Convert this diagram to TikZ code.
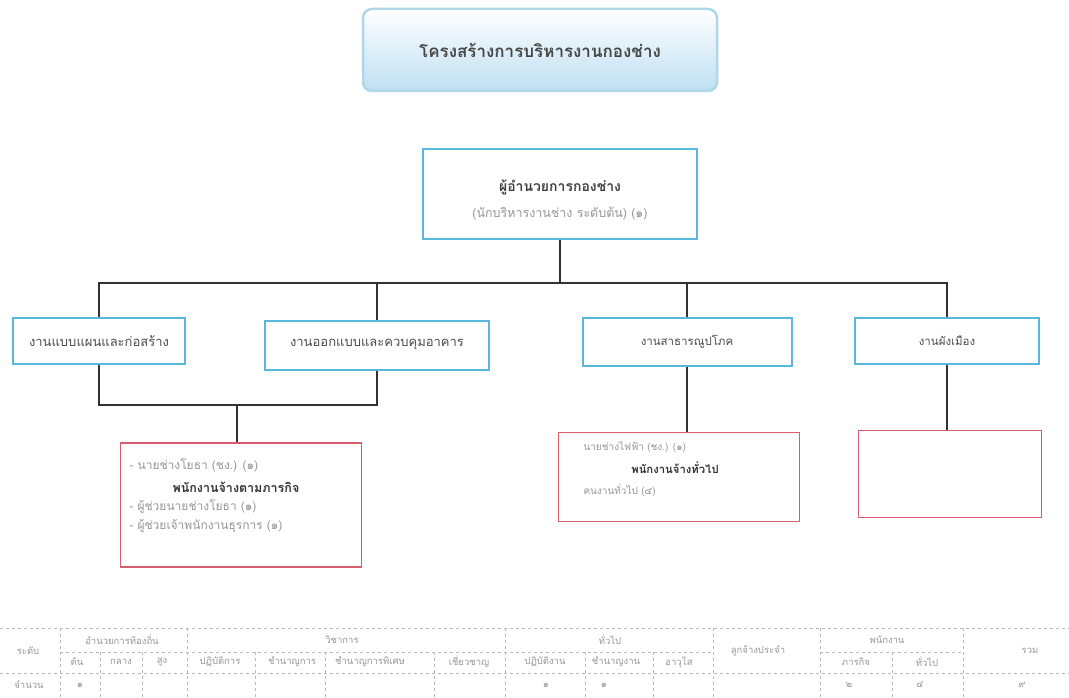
\documentclass[tikz,border=0pt]{standalone}
\usepackage{fontspec}
\setmainfont[Script=Thai]{Loma}
\usetikzlibrary{positioning}
\definecolor{boxblue}{RGB}{88,184,222}
\definecolor{titleedge}{RGB}{176,214,235}
\definecolor{titlefill}{RGB}{190,223,242}
\definecolor{boxred}{RGB}{214,92,112}
\definecolor{linegray}{RGB}{50,50,50}
\definecolor{faint}{RGB}{150,150,150}
\tikzset{
  unitbox/.style={draw=boxblue,line width=2pt,fill=white,font=\fontsize{13}{15}\selectfont,text=black!70},
  staffbox/.style={draw=boxred,line width=1.6pt,fill=white},
  conn/.style={draw=linegray,line width=1.4pt},
  tabline/.style={draw=gray!55,dashed,line width=0.5pt},
  staffline/.style={anchor=west,text=faint,font=\fontsize{12}{14}\selectfont},
  stafftitle/.style={text=black!80,font=\bfseries\fontsize{12.5}{14}\selectfont},
  thcell/.style={text=faint,font=\fontsize{9.5}{10}\selectfont}
}
\begin{document}
\begin{tikzpicture}[x=1pt,y=-1pt]
\useasboundingbox[fill=white](0,0)rectangle(1069,698);
% title
\node[draw=titleedge,line width=2.5pt,rounded corners=9pt,top color=white,bottom color=titlefill,
  minimum width=354pt,minimum height=82pt,font=\bfseries\fontsize{17}{19}\selectfont,text=black!72]
  (title) at (540,50) {โครงสร้างการบริหารงานกองช่าง};
% head of division
\node[draw=boxblue,line width=2.5pt,fill=white,minimum width=274pt,minimum height=90pt] (boss) at (560,194) {};
\node[font=\bfseries\fontsize{14}{16}\selectfont,text=black!75] (bossname) at (560,187) {ผู้อำนวยการกองช่าง};
\node[font=\fontsize{12.5}{14}\selectfont,text=faint] (bossrank) at (560,214) {(นักบริหารงานช่าง ระดับต้น) (๑)};
% sections
\node[unitbox,minimum width=172pt,minimum height=46pt] (plan) at (99,341) {งานแบบแผนและก่อสร้าง};
\node[unitbox,minimum width=224pt,minimum height=49pt] (design) at (377,345) {งานออกแบบและควบคุมอาคาร};
\node[unitbox,minimum width=209pt,minimum height=48pt,font=\fontsize{11.5}{13}\selectfont] (utility) at (687,342) {งานสาธารณูปโภค};
\node[unitbox,minimum width=184pt,minimum height=46pt,font=\fontsize{11.5}{13}\selectfont] (town) at (947,341) {งานผังเมือง};
% staff boxes
\node[staffbox,minimum width=241pt,minimum height=124pt] (staffA) at (241,505) {};
\node[staffbox,minimum width=241pt,minimum height=89pt] (staffB) at (679,477) {};
\node[staffbox,minimum width=183pt,minimum height=87pt] (staffC) at (950,474) {};
\node[staffline] (a1) at (126,465) {- นายช่างโยธา (ชง.) (๑)};
\node[stafftitle] (a2) at (236,487) {พนักงานจ้างตามภารกิจ};
\node[staffline] (a3) at (126,507) {- ผู้ช่วยนายช่างโยธา (๑)};
\node[staffline] (a4) at (126,526) {- ผู้ช่วยเจ้าพนักงานธุรการ (๑)};
\node[staffline,font=\fontsize{10}{12}\selectfont] (b1) at (580,447) {นายช่างไฟฟ้า (ชง.) (๑)};
\node[stafftitle,font=\bfseries\fontsize{11.3}{13}\selectfont] (b2) at (675,468) {พนักงานจ้างทั่วไป};
\node[staffline,font=\fontsize{10}{12}\selectfont] (b3) at (580,490) {คนงานทั่วไป (๔)};
% connectors
\coordinate (bus) at (560,283);
\coordinate (join) at (237,405);
\draw[conn] (boss.south) -- (bus);
\draw[conn] (plan.north) |- (bus) -| (town.north);
\draw[conn] (design.north) -- (design.north |- bus);
\draw[conn] (utility.north) -- (utility.north |- bus);
\draw[conn] (plan.south) |- (join) -| (design.south);
\draw[conn] (join) -- (join |- staffA.north);
\draw[conn] (utility.south) -- (utility.south |- staffB.north);
\draw[conn] (town.south) -- (town.south |- staffC.north);
% table
\draw[tabline] (0,628) -- (1069,628);
\draw[tabline] (60,652) -- (713,652);
\draw[tabline] (820,652) -- (963,652);
\draw[tabline] (0,673) -- (1069,673);
\draw[tabline] (60,628) -- (60,698);
\draw[tabline] (187,628) -- (187,698);
\draw[tabline] (505,628) -- (505,698);
\draw[tabline] (713,628) -- (713,698);
\draw[tabline] (820,628) -- (820,698);
\draw[tabline] (963,628) -- (963,698);
\draw[tabline] (100,652) -- (100,698);
\draw[tabline] (142,652) -- (142,698);
\draw[tabline] (255,652) -- (255,698);
\draw[tabline] (325,652) -- (325,698);
\draw[tabline] (434,652) -- (434,698);
\draw[tabline] (585,652) -- (585,698);
\draw[tabline] (653,652) -- (653,698);
\draw[tabline] (892,652) -- (892,698);
\node[thcell] (level) at (28,651) {ระดับ};
\node[thcell] (hdadmin) at (122,640) {อำนวยการท้องถิ่น};
\node[thcell] (hdacad) at (342,640) {วิชาการ};
\node[thcell] (hdgen) at (610,640) {ทั่วไป};
\node[thcell] (hdperm) at (758,651) {ลูกจ้างประจำ};
\node[thcell] (hdstaff) at (887,640) {พนักงาน};
\node[thcell] (hdsum) at (1030,651) {รวม};
\node[thcell] (c1) at (77,662) {ต้น};
\node[thcell] (c2) at (121,662) {กลาง};
\node[thcell] (c3) at (162,662) {สูง};
\node[thcell] (c4) at (220,662) {ปฏิบัติการ};
\node[thcell] (c5) at (292,662) {ชำนาญการ};
\node[thcell] (c6) at (370,662) {ชำนาญการพิเศษ};
\node[thcell] (c7) at (469,662) {เชี่ยวชาญ};
\node[thcell] (c8) at (545,662) {ปฏิบัติงาน};
\node[thcell] (c9) at (616,662) {ชำนาญงาน};
\node[thcell] (c10) at (679,662) {อาวุโส};
\node[thcell] (c11) at (856,662) {ภารกิจ};
\node[thcell] (c12) at (927,662) {ทั่วไป};
\node[thcell] (count) at (29,685) {จำนวน};
\node[thcell] (v1) at (80,685) {๑};
\node[thcell] (v8) at (546,685) {๑};
\node[thcell] (v9) at (604,685) {๑};
\node[thcell] (v11) at (849,685) {๒};
\node[thcell] (v12) at (920,685) {๔};
\node[thcell] (vsum) at (1022,685) {๙};
\end{tikzpicture}
\end{document}
